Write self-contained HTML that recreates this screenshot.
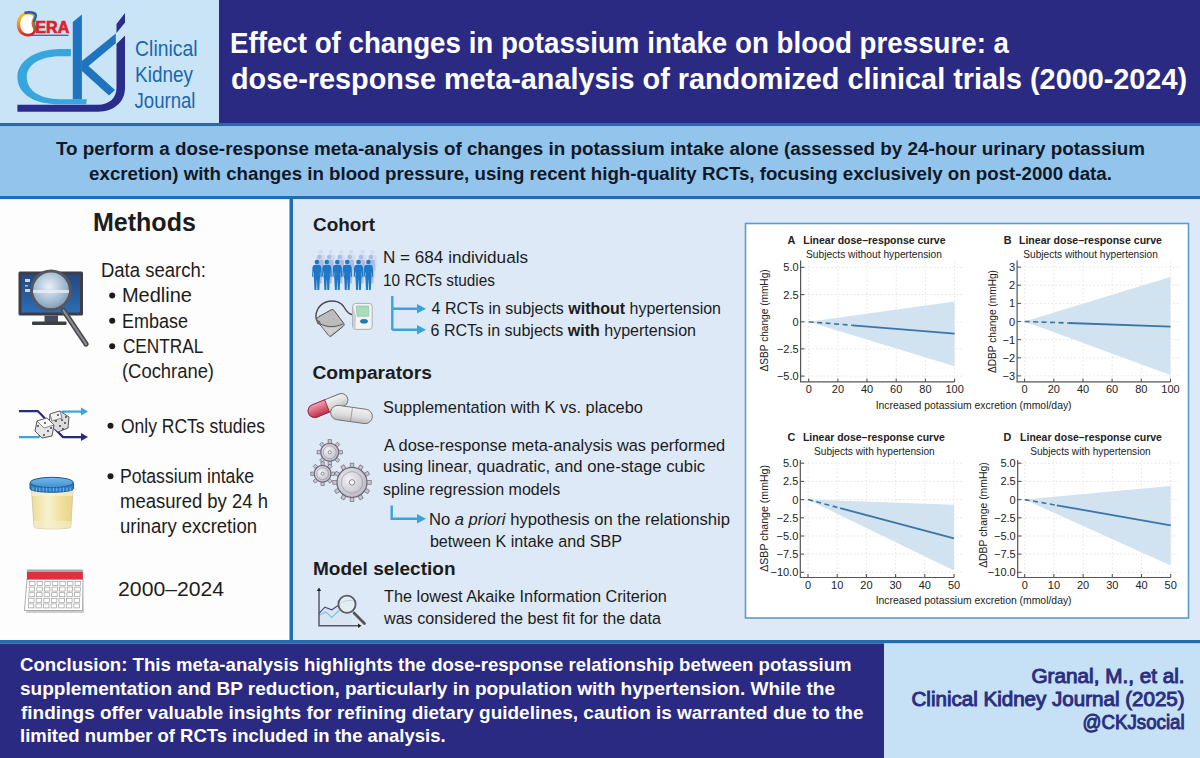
<!DOCTYPE html>
<html><head><meta charset="utf-8"><title>Potassium intake meta-analysis</title>
<style>
html,body{margin:0;padding:0;width:1200px;height:758px;overflow:hidden;background:#fff}
svg{display:block;font-family:"Liberation Sans",sans-serif}
</style></head><body>
<svg width="1200" height="758" viewBox="0 0 1200 758">
<rect x="0" y="0" width="1200" height="758" fill="#fdfdfd"/>
<rect x="0" y="0" width="219" height="123" fill="#c9e3f7"/>
<rect x="219" y="0" width="981" height="123" fill="#2b2a83"/>
<rect x="0" y="123" width="1200" height="3.5" fill="#1f6db3"/>
<rect x="0" y="126.5" width="1200" height="69.5" fill="#93c5ec"/>
<rect x="0" y="196" width="1200" height="3.3" fill="#1f6db3"/>
<rect x="0" y="199.3" width="289.5" height="440.7" fill="#fdfdfd"/>
<rect x="293" y="199.3" width="907" height="440.7" fill="#dde9f6"/>
<rect x="289.5" y="199" width="3.5" height="441" fill="#1f6db3"/>
<rect x="0" y="640" width="1200" height="3.5" fill="#1f6db3"/>
<rect x="0" y="643.5" width="884" height="114.5" fill="#2b2a83"/>
<rect x="884" y="643.5" width="316" height="114.5" fill="#c6e1f6"/>
<text id="t1" x="230.00" y="53.4" font-size="29.2" font-weight="700" fill="#ffffff" text-anchor="start" textLength="779.00" lengthAdjust="spacingAndGlyphs"  style="">Effect of changes in potassium intake on blood pressure: a</text>
<text id="t2" x="231.00" y="89.0" font-size="29.2" font-weight="700" fill="#ffffff" text-anchor="start" textLength="956.00" lengthAdjust="spacingAndGlyphs"  style="">dose-response meta-analysis of randomized clinical trials (2000-2024)</text>
<text id="t3" x="135.10" y="55.5" font-size="21.3" fill="#1a67ab" text-anchor="start" textLength="62.50" lengthAdjust="spacingAndGlyphs"  style="">Clinical</text>
<text id="t4" x="135.10" y="82.2" font-size="21.3" fill="#1a67ab" text-anchor="start" textLength="57.80" lengthAdjust="spacingAndGlyphs"  style="">Kidney</text>
<text id="t5" x="134.50" y="108.4" font-size="21.3" fill="#1a67ab" text-anchor="start" textLength="61.00" lengthAdjust="spacingAndGlyphs"  style="">Journal</text>
<text id="t6" x="56.00" y="154.8" font-size="19.2" font-weight="700" fill="#111827" text-anchor="start" textLength="1089.00" lengthAdjust="spacingAndGlyphs"  style="">To perform a dose-response meta-analysis of changes in potassium intake alone (assessed by 24-hour urinary potassium</text>
<text id="t7" x="89.10" y="180.2" font-size="19.2" font-weight="700" fill="#111827" text-anchor="start" textLength="1022.80" lengthAdjust="spacingAndGlyphs"  style="">excretion) with changes in blood pressure, using recent high-quality RCTs, focusing exclusively on post-2000 data.</text>
<text id="t8" x="92.90" y="231.3" font-size="25.2" font-weight="700" fill="#1c1c1c" text-anchor="start" textLength="103.00" lengthAdjust="spacingAndGlyphs"  style="">Methods</text>
<text id="t9" x="100.90" y="277.3" font-size="19.3" fill="#1c1c1c" text-anchor="start" textLength="105.00" lengthAdjust="spacingAndGlyphs"  style="">Data search:</text>
<circle cx="112.2" cy="295.4" r="3.0" fill="#1c1c1c"/>
<text id="t10" x="121.90" y="302.2" font-size="19.3" fill="#1c1c1c" text-anchor="start" textLength="70.10" lengthAdjust="spacingAndGlyphs"  style="">Medline</text>
<circle cx="112.2" cy="320.7" r="3.0" fill="#1c1c1c"/>
<text id="t11" x="121.90" y="327.5" font-size="19.3" fill="#1c1c1c" text-anchor="start" textLength="66.00" lengthAdjust="spacingAndGlyphs"  style="">Embase</text>
<circle cx="112.2" cy="346.3" r="3.0" fill="#1c1c1c"/>
<text id="t12" x="122.90" y="353.1" font-size="19.3" fill="#1c1c1c" text-anchor="start" textLength="80.40" lengthAdjust="spacingAndGlyphs"  style="">CENTRAL</text>
<text id="t13" x="122.00" y="378.1" font-size="19.3" fill="#1c1c1c" text-anchor="start" textLength="92.00" lengthAdjust="spacingAndGlyphs"  style="">(Cochrane)</text>
<circle cx="110.5" cy="425.8" r="3.0" fill="#1c1c1c"/>
<text id="t14" x="120.90" y="432.6" font-size="19.3" fill="#1c1c1c" text-anchor="start" textLength="144.00" lengthAdjust="spacingAndGlyphs"  style="">Only RCTs studies</text>
<circle cx="110.5" cy="476.2" r="3.0" fill="#1c1c1c"/>
<text id="t15" x="119.90" y="483.0" font-size="19.3" fill="#1c1c1c" text-anchor="start" textLength="134.10" lengthAdjust="spacingAndGlyphs"  style="">Potassium intake</text>
<text id="t16" x="120.00" y="508.4" font-size="19.3" fill="#1c1c1c" text-anchor="start" textLength="148.00" lengthAdjust="spacingAndGlyphs"  style="">measured by 24 h</text>
<text id="t17" x="120.00" y="533.0" font-size="19.3" fill="#1c1c1c" text-anchor="start" textLength="137.00" lengthAdjust="spacingAndGlyphs"  style="">urinary excretion</text>
<text id="t18" x="118.10" y="596.0" font-size="19.3" fill="#1c1c1c" text-anchor="start" textLength="106.00" lengthAdjust="spacingAndGlyphs"  style="">2000–2024</text>
<text id="t19" x="313.00" y="231.4" font-size="17.6" font-weight="700" fill="#1c1c1c" text-anchor="start" textLength="62.00" lengthAdjust="spacingAndGlyphs"  style="">Cohort</text>
<text id="t20" x="383.00" y="263.4" font-size="16.8" fill="#1c1c1c" text-anchor="start" textLength="145.00" lengthAdjust="spacingAndGlyphs"  style="">N = 684 individuals</text>
<text id="t21" x="383.00" y="286.0" font-size="16.8" fill="#1c1c1c" text-anchor="start" textLength="112.00" lengthAdjust="spacingAndGlyphs"  style="">10 RCTs studies</text>
<text id="t22" x="431.60" y="314.4" font-size="16.8" fill="#1c1c1c" text-anchor="start" textLength="289.40" lengthAdjust="spacingAndGlyphs"  style="">4 RCTs in subjects <tspan font-weight="700">without</tspan> hypertension</text>
<text id="t23" x="430.60" y="336.2" font-size="16.8" fill="#1c1c1c" text-anchor="start" textLength="265.40" lengthAdjust="spacingAndGlyphs"  style="">6 RCTs in subjects <tspan font-weight="700">with</tspan> hypertension</text>
<text id="t24" x="312.50" y="379.0" font-size="17.6" font-weight="700" fill="#1c1c1c" text-anchor="start" textLength="119.50" lengthAdjust="spacingAndGlyphs"  style="">Comparators</text>
<text id="t25" x="383.00" y="413.0" font-size="16.8" fill="#1c1c1c" text-anchor="start" textLength="260.00" lengthAdjust="spacingAndGlyphs"  style="">Supplementation with K vs. placebo</text>
<text id="t26" x="384.00" y="450.6" font-size="16.8" fill="#1c1c1c" text-anchor="start" textLength="341.20" lengthAdjust="spacingAndGlyphs"  style="">A dose-response meta-analysis was performed</text>
<text id="t27" x="383.00" y="472.0" font-size="16.8" fill="#1c1c1c" text-anchor="start" textLength="322.20" lengthAdjust="spacingAndGlyphs"  style="">using linear, quadratic, and one-stage cubic</text>
<text id="t28" x="383.00" y="495.1" font-size="16.8" fill="#1c1c1c" text-anchor="start" textLength="177.20" lengthAdjust="spacingAndGlyphs"  style="">spline regression models</text>
<text id="t29" x="428.90" y="525.1" font-size="16.8" fill="#1c1c1c" text-anchor="start" textLength="301.10" lengthAdjust="spacingAndGlyphs"  style="">No <tspan font-style="italic">a priori</tspan> hypothesis on the relationship</text>
<text id="t30" x="429.90" y="547.4" font-size="16.8" fill="#1c1c1c" text-anchor="start" textLength="192.10" lengthAdjust="spacingAndGlyphs"  style="">between K intake and SBP</text>
<text id="t31" x="313.00" y="575.3" font-size="17.6" font-weight="700" fill="#1c1c1c" text-anchor="start" textLength="142.50" lengthAdjust="spacingAndGlyphs"  style="">Model selection</text>
<text id="t32" x="384.00" y="602.2" font-size="16.8" fill="#1c1c1c" text-anchor="start" textLength="282.90" lengthAdjust="spacingAndGlyphs"  style="">The lowest Akaike Information Criterion</text>
<text id="t33" x="384.00" y="623.8" font-size="16.8" fill="#1c1c1c" text-anchor="start" textLength="277.00" lengthAdjust="spacingAndGlyphs"  style="">was considered the best fit for the data</text>
<path d="M392.3 296 V330 M392.3 308.8 H418 M392.3 329.8 H418" stroke="#3aa3dc" stroke-width="2.4" fill="none"/>
<path d="M417 304 L426 308.8 L417 313.6 Z M417 325 L426 329.8 L417 334.6 Z" fill="#3aa3dc"/>
<path d="M391.7 505.5 V518.8 H418" stroke="#3aa3dc" stroke-width="2.4" fill="none"/>
<path d="M417 514 L426 518.8 L417 523.6 Z" fill="#3aa3dc"/>
<text id="t34" x="20.00" y="671.0" font-size="17.8" font-weight="700" fill="#ffffff" text-anchor="start" textLength="831.60" lengthAdjust="spacingAndGlyphs"  style="">Conclusion: This meta-analysis highlights the dose-response relationship between potassium</text>
<text id="t35" x="20.00" y="694.5" font-size="17.8" font-weight="700" fill="#ffffff" text-anchor="start" textLength="815.00" lengthAdjust="spacingAndGlyphs"  style="">supplementation and BP reduction, particularly in population with hypertension. While the</text>
<text id="t36" x="21.00" y="718.5" font-size="17.8" font-weight="700" fill="#ffffff" text-anchor="start" textLength="842.50" lengthAdjust="spacingAndGlyphs"  style="">findings offer valuable insights for refining dietary guidelines, caution is warranted due to the</text>
<text id="t37" x="20.00" y="742.3" font-size="17.8" font-weight="700" fill="#ffffff" text-anchor="start" textLength="425.60" lengthAdjust="spacingAndGlyphs"  style="">limited number of RCTs included in the analysis.</text>
<text id="t38" x="1031.50" y="682.5" font-size="19.4" stroke="#2b2f80" stroke-width="0.95" fill="#2b2f80" text-anchor="start" textLength="153.10" lengthAdjust="spacingAndGlyphs"  style="">Granal, M., et al.</text>
<text id="t39" x="911.50" y="706.3" font-size="19.4" stroke="#2b2f80" stroke-width="0.95" fill="#2b2f80" text-anchor="start" textLength="273.10" lengthAdjust="spacingAndGlyphs"  style="">Clinical Kidney Journal (2025)</text>
<text id="t40" x="1082.60" y="728.8" font-size="19.4" stroke="#2b2f80" stroke-width="0.95" fill="#2b2f80" text-anchor="start" textLength="102.00" lengthAdjust="spacingAndGlyphs"  style="">@CKJsocial</text>
<rect x="745.5" y="223.5" width="443" height="394.5" fill="#ffffff" stroke="#5b9dc6" stroke-width="1.6"/>
<path d="M808.7 321.8 L954.6 301.6 L954.6 366.3 Z" fill="#d1e2f0"/>
<line x1="804.6" y1="267.4" x2="962.6" y2="267.4" stroke="#e2e2e2" stroke-width="0.9" stroke-dasharray="1.6 2.2"/>
<line x1="804.6" y1="294.6" x2="962.6" y2="294.6" stroke="#e2e2e2" stroke-width="0.9" stroke-dasharray="1.6 2.2"/>
<line x1="804.6" y1="321.8" x2="962.6" y2="321.8" stroke="#e2e2e2" stroke-width="0.9" stroke-dasharray="1.6 2.2"/>
<line x1="804.6" y1="348.9" x2="962.6" y2="348.9" stroke="#e2e2e2" stroke-width="0.9" stroke-dasharray="1.6 2.2"/>
<line x1="804.6" y1="376.1" x2="962.6" y2="376.1" stroke="#e2e2e2" stroke-width="0.9" stroke-dasharray="1.6 2.2"/>
<line x1="808.7" y1="261.5" x2="808.7" y2="377.9" stroke="#e2e2e2" stroke-width="0.9" stroke-dasharray="1.6 2.2"/>
<line x1="837.9" y1="261.5" x2="837.9" y2="377.9" stroke="#e2e2e2" stroke-width="0.9" stroke-dasharray="1.6 2.2"/>
<line x1="867.0" y1="261.5" x2="867.0" y2="377.9" stroke="#e2e2e2" stroke-width="0.9" stroke-dasharray="1.6 2.2"/>
<line x1="896.2" y1="261.5" x2="896.2" y2="377.9" stroke="#e2e2e2" stroke-width="0.9" stroke-dasharray="1.6 2.2"/>
<line x1="925.4" y1="261.5" x2="925.4" y2="377.9" stroke="#e2e2e2" stroke-width="0.9" stroke-dasharray="1.6 2.2"/>
<line x1="954.6" y1="261.5" x2="954.6" y2="377.9" stroke="#e2e2e2" stroke-width="0.9" stroke-dasharray="1.6 2.2"/>
<line x1="808.7" y1="321.8" x2="852.5" y2="325.3" stroke="#3b74a8" stroke-width="1.6" stroke-dasharray="5 3.5"/>
<line x1="852.5" y1="325.3" x2="954.6" y2="333.6" stroke="#3b74a8" stroke-width="1.8"/>
<path d="M800.6 260.5 V381.9 H954.6" stroke="#555555" stroke-width="1.2" fill="none"/>
<line x1="800.6" y1="267.4" x2="804.4" y2="267.4" stroke="#555555" stroke-width="1.1"/>
<line x1="800.6" y1="294.6" x2="804.4" y2="294.6" stroke="#555555" stroke-width="1.1"/>
<line x1="800.6" y1="321.8" x2="804.4" y2="321.8" stroke="#555555" stroke-width="1.1"/>
<line x1="800.6" y1="348.9" x2="804.4" y2="348.9" stroke="#555555" stroke-width="1.1"/>
<line x1="800.6" y1="376.1" x2="804.4" y2="376.1" stroke="#555555" stroke-width="1.1"/>
<line x1="808.7" y1="381.9" x2="808.7" y2="378.4" stroke="#555555" stroke-width="1.1"/>
<line x1="837.9" y1="381.9" x2="837.9" y2="378.4" stroke="#555555" stroke-width="1.1"/>
<line x1="867.0" y1="381.9" x2="867.0" y2="378.4" stroke="#555555" stroke-width="1.1"/>
<line x1="896.2" y1="381.9" x2="896.2" y2="378.4" stroke="#555555" stroke-width="1.1"/>
<line x1="925.4" y1="381.9" x2="925.4" y2="378.4" stroke="#555555" stroke-width="1.1"/>
<line x1="954.6" y1="381.9" x2="954.6" y2="378.4" stroke="#555555" stroke-width="1.1"/>
<text x="798.6" y="271.4" font-size="11" fill="#222222" text-anchor="end">5.0</text>
<text x="798.6" y="298.6" font-size="11" fill="#222222" text-anchor="end">2.5</text>
<text x="798.6" y="325.8" font-size="11" fill="#222222" text-anchor="end">0</text>
<text x="798.6" y="352.9" font-size="11" fill="#222222" text-anchor="end">−2.5</text>
<text x="798.6" y="380.1" font-size="11" fill="#222222" text-anchor="end">−5.0</text>
<text x="808.7" y="392.9" font-size="11" fill="#222222" text-anchor="middle">0</text>
<text x="837.9" y="392.9" font-size="11" fill="#222222" text-anchor="middle">20</text>
<text x="867.0" y="392.9" font-size="11" fill="#222222" text-anchor="middle">40</text>
<text x="896.2" y="392.9" font-size="11" fill="#222222" text-anchor="middle">60</text>
<text x="925.4" y="392.9" font-size="11" fill="#222222" text-anchor="middle">80</text>
<text x="954.6" y="392.9" font-size="11" fill="#222222" text-anchor="middle">100</text>
<text x="787.6" y="243.8" font-size="10.8" font-weight="700" fill="#222222">A</text>
<text id="t41" x="803.30" y="243.8" font-size="10.8" font-weight="700" fill="#222222" text-anchor="start" textLength="142.20" lengthAdjust="spacingAndGlyphs"  style="">Linear dose–response curve</text>
<text id="t42" x="806.00" y="257.6" font-size="10.8" fill="#222222" text-anchor="start" textLength="136.00" lengthAdjust="spacingAndGlyphs"  style="">Subjects without hypertension</text>
<text x="0" y="0" font-size="10.8" fill="#222222" text-anchor="middle" textLength="102.1" lengthAdjust="spacingAndGlyphs" transform="translate(768.0 320.4) rotate(-90)">ΔSBP change (mmHg)</text>
<path d="M1024.6 321.5 L1170.5 277.1 L1170.5 375.0 Z" fill="#d1e2f0"/>
<line x1="1021.1" y1="267.1" x2="1178.5" y2="267.1" stroke="#e2e2e2" stroke-width="0.9" stroke-dasharray="1.6 2.2"/>
<line x1="1021.1" y1="285.2" x2="1178.5" y2="285.2" stroke="#e2e2e2" stroke-width="0.9" stroke-dasharray="1.6 2.2"/>
<line x1="1021.1" y1="303.4" x2="1178.5" y2="303.4" stroke="#e2e2e2" stroke-width="0.9" stroke-dasharray="1.6 2.2"/>
<line x1="1021.1" y1="321.5" x2="1178.5" y2="321.5" stroke="#e2e2e2" stroke-width="0.9" stroke-dasharray="1.6 2.2"/>
<line x1="1021.1" y1="339.6" x2="1178.5" y2="339.6" stroke="#e2e2e2" stroke-width="0.9" stroke-dasharray="1.6 2.2"/>
<line x1="1021.1" y1="357.8" x2="1178.5" y2="357.8" stroke="#e2e2e2" stroke-width="0.9" stroke-dasharray="1.6 2.2"/>
<line x1="1021.1" y1="375.9" x2="1178.5" y2="375.9" stroke="#e2e2e2" stroke-width="0.9" stroke-dasharray="1.6 2.2"/>
<line x1="1024.6" y1="261.5" x2="1024.6" y2="377.9" stroke="#e2e2e2" stroke-width="0.9" stroke-dasharray="1.6 2.2"/>
<line x1="1053.8" y1="261.5" x2="1053.8" y2="377.9" stroke="#e2e2e2" stroke-width="0.9" stroke-dasharray="1.6 2.2"/>
<line x1="1083.0" y1="261.5" x2="1083.0" y2="377.9" stroke="#e2e2e2" stroke-width="0.9" stroke-dasharray="1.6 2.2"/>
<line x1="1112.1" y1="261.5" x2="1112.1" y2="377.9" stroke="#e2e2e2" stroke-width="0.9" stroke-dasharray="1.6 2.2"/>
<line x1="1141.3" y1="261.5" x2="1141.3" y2="377.9" stroke="#e2e2e2" stroke-width="0.9" stroke-dasharray="1.6 2.2"/>
<line x1="1170.5" y1="261.5" x2="1170.5" y2="377.9" stroke="#e2e2e2" stroke-width="0.9" stroke-dasharray="1.6 2.2"/>
<line x1="1024.6" y1="321.5" x2="1068.4" y2="323.0" stroke="#3b74a8" stroke-width="1.6" stroke-dasharray="5 3.5"/>
<line x1="1068.4" y1="323.0" x2="1170.5" y2="326.6" stroke="#3b74a8" stroke-width="1.8"/>
<path d="M1017.1 260.5 V381.9 H1170.5" stroke="#555555" stroke-width="1.2" fill="none"/>
<line x1="1017.1" y1="267.1" x2="1020.9" y2="267.1" stroke="#555555" stroke-width="1.1"/>
<line x1="1017.1" y1="285.2" x2="1020.9" y2="285.2" stroke="#555555" stroke-width="1.1"/>
<line x1="1017.1" y1="303.4" x2="1020.9" y2="303.4" stroke="#555555" stroke-width="1.1"/>
<line x1="1017.1" y1="321.5" x2="1020.9" y2="321.5" stroke="#555555" stroke-width="1.1"/>
<line x1="1017.1" y1="339.6" x2="1020.9" y2="339.6" stroke="#555555" stroke-width="1.1"/>
<line x1="1017.1" y1="357.8" x2="1020.9" y2="357.8" stroke="#555555" stroke-width="1.1"/>
<line x1="1017.1" y1="375.9" x2="1020.9" y2="375.9" stroke="#555555" stroke-width="1.1"/>
<line x1="1024.6" y1="381.9" x2="1024.6" y2="378.4" stroke="#555555" stroke-width="1.1"/>
<line x1="1053.8" y1="381.9" x2="1053.8" y2="378.4" stroke="#555555" stroke-width="1.1"/>
<line x1="1083.0" y1="381.9" x2="1083.0" y2="378.4" stroke="#555555" stroke-width="1.1"/>
<line x1="1112.1" y1="381.9" x2="1112.1" y2="378.4" stroke="#555555" stroke-width="1.1"/>
<line x1="1141.3" y1="381.9" x2="1141.3" y2="378.4" stroke="#555555" stroke-width="1.1"/>
<line x1="1170.5" y1="381.9" x2="1170.5" y2="378.4" stroke="#555555" stroke-width="1.1"/>
<text x="1015.1" y="271.1" font-size="11" fill="#222222" text-anchor="end">3</text>
<text x="1015.1" y="289.2" font-size="11" fill="#222222" text-anchor="end">2</text>
<text x="1015.1" y="307.4" font-size="11" fill="#222222" text-anchor="end">1</text>
<text x="1015.1" y="325.5" font-size="11" fill="#222222" text-anchor="end">0</text>
<text x="1015.1" y="343.6" font-size="11" fill="#222222" text-anchor="end">−1</text>
<text x="1015.1" y="361.8" font-size="11" fill="#222222" text-anchor="end">−2</text>
<text x="1015.1" y="379.9" font-size="11" fill="#222222" text-anchor="end">−3</text>
<text x="1024.6" y="392.9" font-size="11" fill="#222222" text-anchor="middle">0</text>
<text x="1053.8" y="392.9" font-size="11" fill="#222222" text-anchor="middle">20</text>
<text x="1083.0" y="392.9" font-size="11" fill="#222222" text-anchor="middle">40</text>
<text x="1112.1" y="392.9" font-size="11" fill="#222222" text-anchor="middle">60</text>
<text x="1141.3" y="392.9" font-size="11" fill="#222222" text-anchor="middle">80</text>
<text x="1170.5" y="392.9" font-size="11" fill="#222222" text-anchor="middle">100</text>
<text x="1003.8" y="243.8" font-size="10.8" font-weight="700" fill="#222222">B</text>
<text id="t43" x="1019.00" y="243.8" font-size="10.8" font-weight="700" fill="#222222" text-anchor="start" textLength="142.90" lengthAdjust="spacingAndGlyphs"  style="">Linear dose–response curve</text>
<text id="t44" x="1023.30" y="257.6" font-size="10.8" fill="#222222" text-anchor="start" textLength="134.50" lengthAdjust="spacingAndGlyphs"  style="">Subjects without hypertension</text>
<text x="0" y="0" font-size="10.8" fill="#222222" text-anchor="middle" textLength="103.0" lengthAdjust="spacingAndGlyphs" transform="translate(995.5 321.5) rotate(-90)">ΔDBP change (mmHg)</text>
<path d="M808.0 499.6 L954.0 504.7 L954.0 570.6 Z" fill="#d1e2f0"/>
<line x1="804.3" y1="463.2" x2="962.0" y2="463.2" stroke="#e2e2e2" stroke-width="0.9" stroke-dasharray="1.6 2.2"/>
<line x1="804.3" y1="481.4" x2="962.0" y2="481.4" stroke="#e2e2e2" stroke-width="0.9" stroke-dasharray="1.6 2.2"/>
<line x1="804.3" y1="499.6" x2="962.0" y2="499.6" stroke="#e2e2e2" stroke-width="0.9" stroke-dasharray="1.6 2.2"/>
<line x1="804.3" y1="517.8" x2="962.0" y2="517.8" stroke="#e2e2e2" stroke-width="0.9" stroke-dasharray="1.6 2.2"/>
<line x1="804.3" y1="536.0" x2="962.0" y2="536.0" stroke="#e2e2e2" stroke-width="0.9" stroke-dasharray="1.6 2.2"/>
<line x1="804.3" y1="554.1" x2="962.0" y2="554.1" stroke="#e2e2e2" stroke-width="0.9" stroke-dasharray="1.6 2.2"/>
<line x1="804.3" y1="572.3" x2="962.0" y2="572.3" stroke="#e2e2e2" stroke-width="0.9" stroke-dasharray="1.6 2.2"/>
<line x1="808.0" y1="460.9" x2="808.0" y2="573.5" stroke="#e2e2e2" stroke-width="0.9" stroke-dasharray="1.6 2.2"/>
<line x1="837.2" y1="460.9" x2="837.2" y2="573.5" stroke="#e2e2e2" stroke-width="0.9" stroke-dasharray="1.6 2.2"/>
<line x1="866.4" y1="460.9" x2="866.4" y2="573.5" stroke="#e2e2e2" stroke-width="0.9" stroke-dasharray="1.6 2.2"/>
<line x1="895.6" y1="460.9" x2="895.6" y2="573.5" stroke="#e2e2e2" stroke-width="0.9" stroke-dasharray="1.6 2.2"/>
<line x1="924.8" y1="460.9" x2="924.8" y2="573.5" stroke="#e2e2e2" stroke-width="0.9" stroke-dasharray="1.6 2.2"/>
<line x1="954.0" y1="460.9" x2="954.0" y2="573.5" stroke="#e2e2e2" stroke-width="0.9" stroke-dasharray="1.6 2.2"/>
<line x1="808.0" y1="499.6" x2="840.1" y2="508.1" stroke="#3b74a8" stroke-width="1.6" stroke-dasharray="5 3.5"/>
<line x1="840.1" y1="508.1" x2="954.0" y2="538.4" stroke="#3b74a8" stroke-width="1.8"/>
<path d="M800.3 459.9 V577.5 H954.0" stroke="#555555" stroke-width="1.2" fill="none"/>
<line x1="800.3" y1="463.2" x2="804.1" y2="463.2" stroke="#555555" stroke-width="1.1"/>
<line x1="800.3" y1="481.4" x2="804.1" y2="481.4" stroke="#555555" stroke-width="1.1"/>
<line x1="800.3" y1="499.6" x2="804.1" y2="499.6" stroke="#555555" stroke-width="1.1"/>
<line x1="800.3" y1="517.8" x2="804.1" y2="517.8" stroke="#555555" stroke-width="1.1"/>
<line x1="800.3" y1="536.0" x2="804.1" y2="536.0" stroke="#555555" stroke-width="1.1"/>
<line x1="800.3" y1="554.1" x2="804.1" y2="554.1" stroke="#555555" stroke-width="1.1"/>
<line x1="800.3" y1="572.3" x2="804.1" y2="572.3" stroke="#555555" stroke-width="1.1"/>
<line x1="808.0" y1="577.5" x2="808.0" y2="574.0" stroke="#555555" stroke-width="1.1"/>
<line x1="837.2" y1="577.5" x2="837.2" y2="574.0" stroke="#555555" stroke-width="1.1"/>
<line x1="866.4" y1="577.5" x2="866.4" y2="574.0" stroke="#555555" stroke-width="1.1"/>
<line x1="895.6" y1="577.5" x2="895.6" y2="574.0" stroke="#555555" stroke-width="1.1"/>
<line x1="924.8" y1="577.5" x2="924.8" y2="574.0" stroke="#555555" stroke-width="1.1"/>
<line x1="954.0" y1="577.5" x2="954.0" y2="574.0" stroke="#555555" stroke-width="1.1"/>
<text x="798.3" y="467.2" font-size="11" fill="#222222" text-anchor="end">5.0</text>
<text x="798.3" y="485.4" font-size="11" fill="#222222" text-anchor="end">2.5</text>
<text x="798.3" y="503.6" font-size="11" fill="#222222" text-anchor="end">0</text>
<text x="798.3" y="521.8" font-size="11" fill="#222222" text-anchor="end">−2.5</text>
<text x="798.3" y="540.0" font-size="11" fill="#222222" text-anchor="end">−5.0</text>
<text x="798.3" y="558.1" font-size="11" fill="#222222" text-anchor="end">−7.5</text>
<text x="798.3" y="576.3" font-size="11" fill="#222222" text-anchor="end">−10.0</text>
<text x="808.0" y="588.5" font-size="11" fill="#222222" text-anchor="middle">0</text>
<text x="837.2" y="588.5" font-size="11" fill="#222222" text-anchor="middle">10</text>
<text x="866.4" y="588.5" font-size="11" fill="#222222" text-anchor="middle">20</text>
<text x="895.6" y="588.5" font-size="11" fill="#222222" text-anchor="middle">30</text>
<text x="924.8" y="588.5" font-size="11" fill="#222222" text-anchor="middle">40</text>
<text x="954.0" y="588.5" font-size="11" fill="#222222" text-anchor="middle">50</text>
<text x="787.5" y="440.6" font-size="10.8" font-weight="700" fill="#222222">C</text>
<text id="t45" x="802.90" y="440.6" font-size="10.8" font-weight="700" fill="#222222" text-anchor="start" textLength="141.90" lengthAdjust="spacingAndGlyphs"  style="">Linear dose–response curve</text>
<text id="t46" x="814.00" y="454.7" font-size="10.8" fill="#222222" text-anchor="start" textLength="120.70" lengthAdjust="spacingAndGlyphs"  style="">Subjects with hypertension</text>
<text x="0" y="0" font-size="10.8" fill="#222222" text-anchor="middle" textLength="106.8" lengthAdjust="spacingAndGlyphs" transform="translate(768.0 518.4) rotate(-90)">ΔSBP change (mmHg)</text>
<path d="M1024.7 499.6 L1170.7 486.1 L1170.7 565.4 Z" fill="#d1e2f0"/>
<line x1="1021.7" y1="463.2" x2="1178.7" y2="463.2" stroke="#e2e2e2" stroke-width="0.9" stroke-dasharray="1.6 2.2"/>
<line x1="1021.7" y1="481.4" x2="1178.7" y2="481.4" stroke="#e2e2e2" stroke-width="0.9" stroke-dasharray="1.6 2.2"/>
<line x1="1021.7" y1="499.6" x2="1178.7" y2="499.6" stroke="#e2e2e2" stroke-width="0.9" stroke-dasharray="1.6 2.2"/>
<line x1="1021.7" y1="517.8" x2="1178.7" y2="517.8" stroke="#e2e2e2" stroke-width="0.9" stroke-dasharray="1.6 2.2"/>
<line x1="1021.7" y1="536.0" x2="1178.7" y2="536.0" stroke="#e2e2e2" stroke-width="0.9" stroke-dasharray="1.6 2.2"/>
<line x1="1021.7" y1="554.1" x2="1178.7" y2="554.1" stroke="#e2e2e2" stroke-width="0.9" stroke-dasharray="1.6 2.2"/>
<line x1="1021.7" y1="572.3" x2="1178.7" y2="572.3" stroke="#e2e2e2" stroke-width="0.9" stroke-dasharray="1.6 2.2"/>
<line x1="1024.7" y1="460.9" x2="1024.7" y2="573.5" stroke="#e2e2e2" stroke-width="0.9" stroke-dasharray="1.6 2.2"/>
<line x1="1053.9" y1="460.9" x2="1053.9" y2="573.5" stroke="#e2e2e2" stroke-width="0.9" stroke-dasharray="1.6 2.2"/>
<line x1="1083.1" y1="460.9" x2="1083.1" y2="573.5" stroke="#e2e2e2" stroke-width="0.9" stroke-dasharray="1.6 2.2"/>
<line x1="1112.3" y1="460.9" x2="1112.3" y2="573.5" stroke="#e2e2e2" stroke-width="0.9" stroke-dasharray="1.6 2.2"/>
<line x1="1141.5" y1="460.9" x2="1141.5" y2="573.5" stroke="#e2e2e2" stroke-width="0.9" stroke-dasharray="1.6 2.2"/>
<line x1="1170.7" y1="460.9" x2="1170.7" y2="573.5" stroke="#e2e2e2" stroke-width="0.9" stroke-dasharray="1.6 2.2"/>
<line x1="1024.7" y1="499.6" x2="1056.8" y2="505.3" stroke="#3b74a8" stroke-width="1.6" stroke-dasharray="5 3.5"/>
<line x1="1056.8" y1="505.3" x2="1170.7" y2="525.3" stroke="#3b74a8" stroke-width="1.8"/>
<path d="M1017.7 459.9 V577.5 H1170.7" stroke="#555555" stroke-width="1.2" fill="none"/>
<line x1="1017.7" y1="463.2" x2="1021.5" y2="463.2" stroke="#555555" stroke-width="1.1"/>
<line x1="1017.7" y1="481.4" x2="1021.5" y2="481.4" stroke="#555555" stroke-width="1.1"/>
<line x1="1017.7" y1="499.6" x2="1021.5" y2="499.6" stroke="#555555" stroke-width="1.1"/>
<line x1="1017.7" y1="517.8" x2="1021.5" y2="517.8" stroke="#555555" stroke-width="1.1"/>
<line x1="1017.7" y1="536.0" x2="1021.5" y2="536.0" stroke="#555555" stroke-width="1.1"/>
<line x1="1017.7" y1="554.1" x2="1021.5" y2="554.1" stroke="#555555" stroke-width="1.1"/>
<line x1="1017.7" y1="572.3" x2="1021.5" y2="572.3" stroke="#555555" stroke-width="1.1"/>
<line x1="1024.7" y1="577.5" x2="1024.7" y2="574.0" stroke="#555555" stroke-width="1.1"/>
<line x1="1053.9" y1="577.5" x2="1053.9" y2="574.0" stroke="#555555" stroke-width="1.1"/>
<line x1="1083.1" y1="577.5" x2="1083.1" y2="574.0" stroke="#555555" stroke-width="1.1"/>
<line x1="1112.3" y1="577.5" x2="1112.3" y2="574.0" stroke="#555555" stroke-width="1.1"/>
<line x1="1141.5" y1="577.5" x2="1141.5" y2="574.0" stroke="#555555" stroke-width="1.1"/>
<line x1="1170.7" y1="577.5" x2="1170.7" y2="574.0" stroke="#555555" stroke-width="1.1"/>
<text x="1015.7" y="467.2" font-size="11" fill="#222222" text-anchor="end">5.0</text>
<text x="1015.7" y="485.4" font-size="11" fill="#222222" text-anchor="end">2.5</text>
<text x="1015.7" y="503.6" font-size="11" fill="#222222" text-anchor="end">0</text>
<text x="1015.7" y="521.8" font-size="11" fill="#222222" text-anchor="end">−2.5</text>
<text x="1015.7" y="540.0" font-size="11" fill="#222222" text-anchor="end">−5.0</text>
<text x="1015.7" y="558.1" font-size="11" fill="#222222" text-anchor="end">−7.5</text>
<text x="1015.7" y="576.3" font-size="11" fill="#222222" text-anchor="end">−10.0</text>
<text x="1024.7" y="588.5" font-size="11" fill="#222222" text-anchor="middle">0</text>
<text x="1053.9" y="588.5" font-size="11" fill="#222222" text-anchor="middle">10</text>
<text x="1083.1" y="588.5" font-size="11" fill="#222222" text-anchor="middle">20</text>
<text x="1112.3" y="588.5" font-size="11" fill="#222222" text-anchor="middle">30</text>
<text x="1141.5" y="588.5" font-size="11" fill="#222222" text-anchor="middle">40</text>
<text x="1170.7" y="588.5" font-size="11" fill="#222222" text-anchor="middle">50</text>
<text x="1003.6" y="440.6" font-size="10.8" font-weight="700" fill="#222222">D</text>
<text id="t47" x="1020.10" y="440.6" font-size="10.8" font-weight="700" fill="#222222" text-anchor="start" textLength="141.80" lengthAdjust="spacingAndGlyphs"  style="">Linear dose–response curve</text>
<text id="t48" x="1030.20" y="454.7" font-size="10.8" fill="#222222" text-anchor="start" textLength="120.50" lengthAdjust="spacingAndGlyphs"  style="">Subjects with hypertension</text>
<text x="0" y="0" font-size="10.8" fill="#222222" text-anchor="middle" textLength="105.5" lengthAdjust="spacingAndGlyphs" transform="translate(987.0 515.1) rotate(-90)">ΔDBP change (mmHg)</text>
<text id="t49" x="875.70" y="408.8" font-size="10.8" fill="#222222" text-anchor="start" textLength="195.90" lengthAdjust="spacingAndGlyphs"  style="">Increased potassium excretion (mmol/day)</text>
<text id="t50" x="875.70" y="603.8" font-size="10.8" fill="#222222" text-anchor="start" textLength="195.90" lengthAdjust="spacingAndGlyphs"  style="">Increased potassium excretion (mmol/day)</text>
<path d="M70.9 48.9 L60 48.9 C33 49.5 17.4 62 17.4 77 C17.4 94 34 104.3 60 104.3 L86.2 104.3 L86.9 99.2 L60 99.2 C39 99.2 26.8 90 26.8 77 C26.8 65 40 56.3 60 56.3 L70.9 56.3 Z" fill="#38a6de"/>
<path d="M72.8 22.1 L81.9 14.4 L81.9 99.3 L72.8 99.3 Z" fill="#1f74c0"/>
<path d="M81.9 61 L115.8 33.5 L115.8 43.3 L88.5 66 L115 90 L109 95.5 L81.9 71 Z" fill="#1f74c0"/>
<path d="M116.5 24 L125 12.9 L125 22.5 L116.5 33 Z" fill="#2a2d8c"/>
<path d="M116.5 44 L125 35.5 L125 88 C125 102 114 111.7 98 111.7 L17.4 111.7 L17.4 104.8 L98 104.8 C109 104.8 116.5 98 116.5 88 Z" fill="#2a2d8c"/>
<defs><linearGradient id="kg" x1="0" y1="0" x2="0.3" y2="1"><stop offset="0" stop-color="#f6d820"/><stop offset="0.45" stop-color="#f39a1c"/><stop offset="0.75" stop-color="#e8502a"/><stop offset="1" stop-color="#d8262e"/></linearGradient></defs>
<path d="M27 12 C21 12 16.8 18 16.8 24.5 C16.8 31.5 21.5 36.5 28 36.5 C32 36.5 35.6 34 36 30.5 C36.2 28 34 26.5 34 23 C34 19.5 36.3 18 35.8 15.2 C35.3 12.8 31 12 27 12 Z" fill="url(#kg)"/>
<path d="M27.5 14.8 C23 14.8 20.2 19 20.2 24.5 C20.2 30 23.5 33.8 28 33.8 C31 33.8 33.2 32 33.4 30 C33.4 28 31.5 26.5 31.5 23 C31.5 19.5 33.5 18 33.2 16.3 C32.8 15 30.5 14.8 27.5 14.8 Z" fill="#ffffff"/>
<path d="M24.5 13 C29 11.5 35.5 12.5 35.8 15.2 C36.1 17.5 34 19.5 33.9 22.5" stroke="#1f5fa8" stroke-width="2.4" fill="none"/>
<path d="M33.9 22.5 C33.9 26 36.2 27.8 36 30.5" stroke="#3aa048" stroke-width="2.4" fill="none"/>
<text x="35.3" y="32.9" font-size="17.2" font-weight="700" fill="#dc2029" stroke="#dc2029" stroke-width="0.7" textLength="34" lengthAdjust="spacingAndGlyphs">ERA</text>
<rect x="31.5" y="34.6" width="37" height="1.4" fill="#2a3a7a" opacity="0.75"/>
<defs>
<linearGradient id="scr" x1="0" y1="0" x2="0" y2="1"><stop offset="0" stop-color="#24497f"/><stop offset="1" stop-color="#2d6db5"/></linearGradient>
<radialGradient id="lens" cx="0.45" cy="0.4" r="0.6"><stop offset="0" stop-color="#e8f0f6"/><stop offset="0.7" stop-color="#9fb9cf"/><stop offset="1" stop-color="#7f9ab3"/></radialGradient>
<linearGradient id="cup" x1="0" y1="0" x2="1" y2="0"><stop offset="0" stop-color="#ecdc96"/><stop offset="0.4" stop-color="#f8f1d0"/><stop offset="0.75" stop-color="#f0df9a"/><stop offset="1" stop-color="#e6d48a"/></linearGradient>
<linearGradient id="lid" x1="0" y1="0" x2="0" y2="1"><stop offset="0" stop-color="#79b8e8"/><stop offset="1" stop-color="#3d8fd0"/></linearGradient>
<linearGradient id="pillg" x1="0" y1="0" x2="0" y2="1"><stop offset="0" stop-color="#f2f2f2"/><stop offset="0.6" stop-color="#dcdcdc"/><stop offset="1" stop-color="#b8b8b8"/></linearGradient>
<linearGradient id="pillr" x1="0" y1="0" x2="0" y2="1"><stop offset="0" stop-color="#f3a0b0"/><stop offset="1" stop-color="#c0304a"/></linearGradient>
<radialGradient id="gear" cx="0.4" cy="0.4" r="0.7"><stop offset="0" stop-color="#f4f2f6"/><stop offset="1" stop-color="#b6b3bf"/></radialGradient>
</defs>
<rect x="18.5" y="271.5" width="64.5" height="44" rx="1.5" fill="#3d3d4a"/>
<rect x="21.5" y="274.5" width="58.5" height="38" fill="url(#scr)"/>
<rect x="25" y="279" width="5" height="3" fill="#c8d8ee"/><rect x="25" y="289" width="5" height="3" fill="#c8d8ee"/><rect x="25" y="285" width="3" height="1.5" fill="#a8c0e0"/>
<rect x="44.5" y="315.5" width="13.5" height="6.5" fill="#4a4a58"/>
<rect x="32" y="321.5" width="34.5" height="3.5" rx="1" fill="#3d3d4a"/>
<line x1="63.5" y1="310.5" x2="86" y2="344" stroke="#4a4a50" stroke-width="5.2" stroke-linecap="round"/>
<line x1="63.5" y1="310.5" x2="86" y2="344" stroke="#8a8a90" stroke-width="2.2" stroke-linecap="round"/>
<circle cx="51" cy="290.3" r="19.3" fill="url(#lens)" stroke="#55565e" stroke-width="3"/>
<rect x="33" y="290" width="36" height="3" fill="#e8eef4" opacity="0.8"/>
<path d="M19 411.1 H37.8 L45 418.5" stroke="#2b2a7a" stroke-width="2.2" fill="none"/>
<path d="M19 437.1 H38.5 L41 434" stroke="#3aa6d0" stroke-width="2.2" fill="none"/>
<path d="M62 411.6 H82" stroke="#3aa6d0" stroke-width="2.2" fill="none"/><path d="M81 407.6 L88 411.6 L81 415.6 Z" fill="#3aa6d0"/>
<path d="M55 429 L63 437.1 H82" stroke="#2b2a7a" stroke-width="2.2" fill="none"/><path d="M81 433.1 L88 437.1 L81 441.1 Z" fill="#2b2a7a"/>
<path d="M50 414 L60 411 L69 417 L68 428 L58 432 L49 425 Z" fill="#dcdcdc" stroke="#444" stroke-width="0.9"/>
<path d="M50 414 L60 411 L62 418 L52 421 Z" fill="#f2f2f2" stroke="#444" stroke-width="0.6"/>
<circle cx="58" cy="415" r="0.9" fill="#333"/>
<circle cx="62" cy="420" r="0.9" fill="#333"/>
<circle cx="65" cy="423" r="0.9" fill="#333"/>
<circle cx="60" cy="426" r="0.9" fill="#333"/>
<circle cx="56" cy="421" r="0.9" fill="#333"/>
<circle cx="66" cy="417" r="0.9" fill="#333"/>
<circle cx="63" cy="429" r="0.9" fill="#333"/>
<path d="M37 421 L47 418 L54 425 L52 436 L42 438 L35 431 Z" fill="#e6e6e6" stroke="#444" stroke-width="0.9"/>
<path d="M37 421 L47 418 L54 425 L44 428 Z" fill="#f8f8f8" stroke="#444" stroke-width="0.6"/>
<circle cx="45" cy="423" r="0.9" fill="#333"/>
<circle cx="38" cy="426" r="0.9" fill="#333"/>
<circle cx="48" cy="431" r="0.9" fill="#333"/>
<circle cx="44" cy="435" r="0.9" fill="#333"/>
<circle cx="51" cy="428" r="0.9" fill="#333"/>
<path d="M31.5 490 L73 490 L70.8 527 C70.8 529.5 34 529.5 34 527 Z" fill="url(#cup)" stroke="#cfc49a" stroke-width="0.8"/>
<path d="M31.6 491 L72.9 491 L72.6 496 L31.9 496 Z" fill="#f4f0dc" opacity="0.7"/>
<path d="M33.6 521 L71.1 521 L70.8 527 C70.8 529.5 34 529.5 34 527 Z" fill="#f6efcf" opacity="0.6"/>
<path d="M30 483.5 C30 477 73.5 477 73.5 483.5 L73.5 488.5 C73.5 493.5 30 493.5 30 488.5 Z" fill="#2f7fc4" stroke="#1d5796" stroke-width="1"/>
<ellipse cx="51.8" cy="482.5" rx="21.5" ry="5.2" fill="url(#lid)" stroke="#1d5796" stroke-width="1"/>
<line x1="33.0" y1="487.5" x2="33.0" y2="491.5" stroke="#8cc4ee" stroke-width="0.8"/>
<line x1="36.4" y1="487.5" x2="36.4" y2="491.5" stroke="#8cc4ee" stroke-width="0.8"/>
<line x1="39.8" y1="487.5" x2="39.8" y2="491.5" stroke="#8cc4ee" stroke-width="0.8"/>
<line x1="43.2" y1="487.5" x2="43.2" y2="491.5" stroke="#8cc4ee" stroke-width="0.8"/>
<line x1="46.6" y1="487.5" x2="46.6" y2="491.5" stroke="#8cc4ee" stroke-width="0.8"/>
<line x1="50.0" y1="487.5" x2="50.0" y2="491.5" stroke="#8cc4ee" stroke-width="0.8"/>
<line x1="53.4" y1="487.5" x2="53.4" y2="491.5" stroke="#8cc4ee" stroke-width="0.8"/>
<line x1="56.8" y1="487.5" x2="56.8" y2="491.5" stroke="#8cc4ee" stroke-width="0.8"/>
<line x1="60.2" y1="487.5" x2="60.2" y2="491.5" stroke="#8cc4ee" stroke-width="0.8"/>
<line x1="63.6" y1="487.5" x2="63.6" y2="491.5" stroke="#8cc4ee" stroke-width="0.8"/>
<line x1="67.0" y1="487.5" x2="67.0" y2="491.5" stroke="#8cc4ee" stroke-width="0.8"/>
<line x1="70.4" y1="487.5" x2="70.4" y2="491.5" stroke="#8cc4ee" stroke-width="0.8"/>
<path d="M27 579 L83 579 L84 613 L26 613 Z" fill="#cfcfcf"/>
<path d="M27 579 L83 579 L82.5 610.5 L24.5 610.5 Z" fill="#ffffff" stroke="#9a9a9a" stroke-width="0.8"/>
<rect x="26.9" y="569.5" width="56" height="3" fill="#a8a8a8"/>
<rect x="26.9" y="572" width="56" height="7.5" fill="#e03040"/>
<rect x="29.5" y="581.5" width="5.5" height="4" fill="#ffffff" stroke="#9c9c9c" stroke-width="0.7"/>
<rect x="37.1" y="581.5" width="5.5" height="4" fill="#ffffff" stroke="#9c9c9c" stroke-width="0.7"/>
<rect x="44.7" y="581.5" width="5.5" height="4" fill="#ffffff" stroke="#9c9c9c" stroke-width="0.7"/>
<rect x="52.3" y="581.5" width="5.5" height="4" fill="#ffffff" stroke="#9c9c9c" stroke-width="0.7"/>
<rect x="59.9" y="581.5" width="5.5" height="4" fill="#ffffff" stroke="#9c9c9c" stroke-width="0.7"/>
<rect x="67.5" y="581.5" width="5.5" height="4" fill="#ffffff" stroke="#9c9c9c" stroke-width="0.7"/>
<rect x="75.1" y="581.5" width="5.5" height="4" fill="#ffffff" stroke="#9c9c9c" stroke-width="0.7"/>
<rect x="29.2" y="587.1" width="5.5" height="4" fill="#ffffff" stroke="#9c9c9c" stroke-width="0.7"/>
<rect x="36.8" y="587.1" width="5.5" height="4" fill="#ffffff" stroke="#9c9c9c" stroke-width="0.7"/>
<rect x="44.4" y="587.1" width="5.5" height="4" fill="#ffffff" stroke="#9c9c9c" stroke-width="0.7"/>
<rect x="52.0" y="587.1" width="5.5" height="4" fill="#ffffff" stroke="#9c9c9c" stroke-width="0.7"/>
<rect x="59.6" y="587.1" width="5.5" height="4" fill="#ffffff" stroke="#9c9c9c" stroke-width="0.7"/>
<rect x="67.2" y="587.1" width="5.5" height="4" fill="#ffffff" stroke="#9c9c9c" stroke-width="0.7"/>
<rect x="74.8" y="587.1" width="5.5" height="4" fill="#ffffff" stroke="#9c9c9c" stroke-width="0.7"/>
<rect x="28.9" y="592.7" width="5.5" height="4" fill="#ffffff" stroke="#9c9c9c" stroke-width="0.7"/>
<rect x="36.5" y="592.7" width="5.5" height="4" fill="#ffffff" stroke="#9c9c9c" stroke-width="0.7"/>
<rect x="44.1" y="592.7" width="5.5" height="4" fill="#ffffff" stroke="#9c9c9c" stroke-width="0.7"/>
<rect x="51.7" y="592.7" width="5.5" height="4" fill="#ffffff" stroke="#9c9c9c" stroke-width="0.7"/>
<rect x="59.3" y="592.7" width="5.5" height="4" fill="#ffffff" stroke="#9c9c9c" stroke-width="0.7"/>
<rect x="66.9" y="592.7" width="5.5" height="4" fill="#ffffff" stroke="#9c9c9c" stroke-width="0.7"/>
<rect x="74.5" y="592.7" width="5.5" height="4" fill="#ffffff" stroke="#9c9c9c" stroke-width="0.7"/>
<rect x="28.6" y="598.3" width="5.5" height="4" fill="#ffffff" stroke="#9c9c9c" stroke-width="0.7"/>
<rect x="36.2" y="598.3" width="5.5" height="4" fill="#ffffff" stroke="#9c9c9c" stroke-width="0.7"/>
<rect x="43.8" y="598.3" width="5.5" height="4" fill="#ffffff" stroke="#9c9c9c" stroke-width="0.7"/>
<rect x="51.4" y="598.3" width="5.5" height="4" fill="#ffffff" stroke="#9c9c9c" stroke-width="0.7"/>
<rect x="59.0" y="598.3" width="5.5" height="4" fill="#ffffff" stroke="#9c9c9c" stroke-width="0.7"/>
<rect x="66.6" y="598.3" width="5.5" height="4" fill="#ffffff" stroke="#9c9c9c" stroke-width="0.7"/>
<rect x="74.2" y="598.3" width="5.5" height="4" fill="#ffffff" stroke="#9c9c9c" stroke-width="0.7"/>
<rect x="28.3" y="603.9" width="5.5" height="4" fill="#ffffff" stroke="#9c9c9c" stroke-width="0.7"/>
<rect x="35.9" y="603.9" width="5.5" height="4" fill="#ffffff" stroke="#9c9c9c" stroke-width="0.7"/>
<rect x="43.5" y="603.9" width="5.5" height="4" fill="#ffffff" stroke="#9c9c9c" stroke-width="0.7"/>
<rect x="51.1" y="603.9" width="5.5" height="4" fill="#ffffff" stroke="#9c9c9c" stroke-width="0.7"/>
<rect x="58.7" y="603.9" width="5.5" height="4" fill="#ffffff" stroke="#9c9c9c" stroke-width="0.7"/>
<rect x="66.3" y="603.9" width="5.5" height="4" fill="#ffffff" stroke="#9c9c9c" stroke-width="0.7"/>
<rect x="73.9" y="603.9" width="5.5" height="4" fill="#ffffff" stroke="#9c9c9c" stroke-width="0.7"/>
<g transform="translate(320.9 249.5) scale(0.95)" fill="#d3dcef"><circle cx="0" cy="2.5" r="2.3"/><path d="M-2.8 5.4 C-3.9 5.7 -4.4 6.8 -4.5 9 L-4.8 17 L-3.7 17.4 L-3.3 11.5 L-3 14.5 C-3.3 16.5 -3.3 18.5 -2.9 20.5 L-2.4 30.5 L-0.5 30.5 L-0.1 20.5 L0.1 20.5 L0.5 30.5 L2.4 30.5 L2.9 20.5 C3.3 18.5 3.3 16.5 3 14.5 L3.3 11.5 L3.7 17.4 L4.8 17 L4.5 9 C4.4 6.8 3.9 5.7 2.8 5.4 Z"/></g>
<g transform="translate(330.8 249.5) scale(0.95)" fill="#d3dcef"><circle cx="0" cy="2.5" r="2.3"/><path d="M-2.8 5.4 C-3.9 5.7 -4.4 6.8 -4.5 9 L-4.8 17 L-3.7 17.4 L-3.3 11.5 L-3 14.5 C-3.3 16.5 -3.3 18.5 -2.9 20.5 L-2.4 30.5 L-0.5 30.5 L-0.1 20.5 L0.1 20.5 L0.5 30.5 L2.4 30.5 L2.9 20.5 C3.3 18.5 3.3 16.5 3 14.5 L3.3 11.5 L3.7 17.4 L4.8 17 L4.5 9 C4.4 6.8 3.9 5.7 2.8 5.4 Z"/></g>
<g transform="translate(341.3 249.5) scale(0.95)" fill="#d3dcef"><circle cx="0" cy="2.5" r="2.3"/><path d="M-2.8 5.4 C-3.9 5.7 -4.4 6.8 -4.5 9 L-4.8 17 L-3.7 17.4 L-3.3 11.5 L-3 14.5 C-3.3 16.5 -3.3 18.5 -2.9 20.5 L-2.4 30.5 L-0.5 30.5 L-0.1 20.5 L0.1 20.5 L0.5 30.5 L2.4 30.5 L2.9 20.5 C3.3 18.5 3.3 16.5 3 14.5 L3.3 11.5 L3.7 17.4 L4.8 17 L4.5 9 C4.4 6.8 3.9 5.7 2.8 5.4 Z"/></g>
<g transform="translate(351.2 249.5) scale(0.95)" fill="#d3dcef"><circle cx="0" cy="2.5" r="2.3"/><path d="M-2.8 5.4 C-3.9 5.7 -4.4 6.8 -4.5 9 L-4.8 17 L-3.7 17.4 L-3.3 11.5 L-3 14.5 C-3.3 16.5 -3.3 18.5 -2.9 20.5 L-2.4 30.5 L-0.5 30.5 L-0.1 20.5 L0.1 20.5 L0.5 30.5 L2.4 30.5 L2.9 20.5 C3.3 18.5 3.3 16.5 3 14.5 L3.3 11.5 L3.7 17.4 L4.8 17 L4.5 9 C4.4 6.8 3.9 5.7 2.8 5.4 Z"/></g>
<g transform="translate(362.5 249.5) scale(0.95)" fill="#d3dcef"><circle cx="0" cy="2.5" r="2.3"/><path d="M-2.8 5.4 C-3.9 5.7 -4.4 6.8 -4.5 9 L-4.8 17 L-3.7 17.4 L-3.3 11.5 L-3 14.5 C-3.3 16.5 -3.3 18.5 -2.9 20.5 L-2.4 30.5 L-0.5 30.5 L-0.1 20.5 L0.1 20.5 L0.5 30.5 L2.4 30.5 L2.9 20.5 C3.3 18.5 3.3 16.5 3 14.5 L3.3 11.5 L3.7 17.4 L4.8 17 L4.5 9 C4.4 6.8 3.9 5.7 2.8 5.4 Z"/></g>
<g transform="translate(372.4 249.5) scale(0.95)" fill="#d3dcef"><circle cx="0" cy="2.5" r="2.3"/><path d="M-2.8 5.4 C-3.9 5.7 -4.4 6.8 -4.5 9 L-4.8 17 L-3.7 17.4 L-3.3 11.5 L-3 14.5 C-3.3 16.5 -3.3 18.5 -2.9 20.5 L-2.4 30.5 L-0.5 30.5 L-0.1 20.5 L0.1 20.5 L0.5 30.5 L2.4 30.5 L2.9 20.5 C3.3 18.5 3.3 16.5 3 14.5 L3.3 11.5 L3.7 17.4 L4.8 17 L4.5 9 C4.4 6.8 3.9 5.7 2.8 5.4 Z"/></g>
<g transform="translate(319.4 254.5) scale(0.95)" fill="#a9bde3"><circle cx="0" cy="2.5" r="2.3"/><path d="M-2.8 5.4 C-3.9 5.7 -4.4 6.8 -4.5 9 L-4.8 17 L-3.7 17.4 L-3.3 11.5 L-3 14.5 C-3.3 16.5 -3.3 18.5 -2.9 20.5 L-2.4 30.5 L-0.5 30.5 L-0.1 20.5 L0.1 20.5 L0.5 30.5 L2.4 30.5 L2.9 20.5 C3.3 18.5 3.3 16.5 3 14.5 L3.3 11.5 L3.7 17.4 L4.8 17 L4.5 9 C4.4 6.8 3.9 5.7 2.8 5.4 Z"/></g>
<g transform="translate(329.3 254.5) scale(0.95)" fill="#a9bde3"><circle cx="0" cy="2.5" r="2.3"/><path d="M-2.8 5.4 C-3.9 5.7 -4.4 6.8 -4.5 9 L-4.8 17 L-3.7 17.4 L-3.3 11.5 L-3 14.5 C-3.3 16.5 -3.3 18.5 -2.9 20.5 L-2.4 30.5 L-0.5 30.5 L-0.1 20.5 L0.1 20.5 L0.5 30.5 L2.4 30.5 L2.9 20.5 C3.3 18.5 3.3 16.5 3 14.5 L3.3 11.5 L3.7 17.4 L4.8 17 L4.5 9 C4.4 6.8 3.9 5.7 2.8 5.4 Z"/></g>
<g transform="translate(339.8 254.5) scale(0.95)" fill="#a9bde3"><circle cx="0" cy="2.5" r="2.3"/><path d="M-2.8 5.4 C-3.9 5.7 -4.4 6.8 -4.5 9 L-4.8 17 L-3.7 17.4 L-3.3 11.5 L-3 14.5 C-3.3 16.5 -3.3 18.5 -2.9 20.5 L-2.4 30.5 L-0.5 30.5 L-0.1 20.5 L0.1 20.5 L0.5 30.5 L2.4 30.5 L2.9 20.5 C3.3 18.5 3.3 16.5 3 14.5 L3.3 11.5 L3.7 17.4 L4.8 17 L4.5 9 C4.4 6.8 3.9 5.7 2.8 5.4 Z"/></g>
<g transform="translate(349.7 254.5) scale(0.95)" fill="#a9bde3"><circle cx="0" cy="2.5" r="2.3"/><path d="M-2.8 5.4 C-3.9 5.7 -4.4 6.8 -4.5 9 L-4.8 17 L-3.7 17.4 L-3.3 11.5 L-3 14.5 C-3.3 16.5 -3.3 18.5 -2.9 20.5 L-2.4 30.5 L-0.5 30.5 L-0.1 20.5 L0.1 20.5 L0.5 30.5 L2.4 30.5 L2.9 20.5 C3.3 18.5 3.3 16.5 3 14.5 L3.3 11.5 L3.7 17.4 L4.8 17 L4.5 9 C4.4 6.8 3.9 5.7 2.8 5.4 Z"/></g>
<g transform="translate(361.0 254.5) scale(0.95)" fill="#a9bde3"><circle cx="0" cy="2.5" r="2.3"/><path d="M-2.8 5.4 C-3.9 5.7 -4.4 6.8 -4.5 9 L-4.8 17 L-3.7 17.4 L-3.3 11.5 L-3 14.5 C-3.3 16.5 -3.3 18.5 -2.9 20.5 L-2.4 30.5 L-0.5 30.5 L-0.1 20.5 L0.1 20.5 L0.5 30.5 L2.4 30.5 L2.9 20.5 C3.3 18.5 3.3 16.5 3 14.5 L3.3 11.5 L3.7 17.4 L4.8 17 L4.5 9 C4.4 6.8 3.9 5.7 2.8 5.4 Z"/></g>
<g transform="translate(370.9 254.5) scale(0.95)" fill="#a9bde3"><circle cx="0" cy="2.5" r="2.3"/><path d="M-2.8 5.4 C-3.9 5.7 -4.4 6.8 -4.5 9 L-4.8 17 L-3.7 17.4 L-3.3 11.5 L-3 14.5 C-3.3 16.5 -3.3 18.5 -2.9 20.5 L-2.4 30.5 L-0.5 30.5 L-0.1 20.5 L0.1 20.5 L0.5 30.5 L2.4 30.5 L2.9 20.5 C3.3 18.5 3.3 16.5 3 14.5 L3.3 11.5 L3.7 17.4 L4.8 17 L4.5 9 C4.4 6.8 3.9 5.7 2.8 5.4 Z"/></g>
<g transform="translate(316.9 259.5) scale(1.0)" fill="#1f78c6"><circle cx="0" cy="2.5" r="2.3"/><path d="M-2.8 5.4 C-3.9 5.7 -4.4 6.8 -4.5 9 L-4.8 17 L-3.7 17.4 L-3.3 11.5 L-3 14.5 C-3.3 16.5 -3.3 18.5 -2.9 20.5 L-2.4 30.5 L-0.5 30.5 L-0.1 20.5 L0.1 20.5 L0.5 30.5 L2.4 30.5 L2.9 20.5 C3.3 18.5 3.3 16.5 3 14.5 L3.3 11.5 L3.7 17.4 L4.8 17 L4.5 9 C4.4 6.8 3.9 5.7 2.8 5.4 Z"/></g>
<g transform="translate(326.8 259.5) scale(1.0)" fill="#1f78c6"><circle cx="0" cy="2.5" r="2.3"/><path d="M-2.8 5.4 C-3.9 5.7 -4.4 6.8 -4.5 9 L-4.8 17 L-3.7 17.4 L-3.3 11.5 L-3 14.5 C-3.3 16.5 -3.3 18.5 -2.9 20.5 L-2.4 30.5 L-0.5 30.5 L-0.1 20.5 L0.1 20.5 L0.5 30.5 L2.4 30.5 L2.9 20.5 C3.3 18.5 3.3 16.5 3 14.5 L3.3 11.5 L3.7 17.4 L4.8 17 L4.5 9 C4.4 6.8 3.9 5.7 2.8 5.4 Z"/></g>
<g transform="translate(337.3 259.5) scale(1.0)" fill="#1f78c6"><circle cx="0" cy="2.5" r="2.3"/><path d="M-2.8 5.4 C-3.9 5.7 -4.4 6.8 -4.5 9 L-4.8 17 L-3.7 17.4 L-3.3 11.5 L-3 14.5 C-3.3 16.5 -3.3 18.5 -2.9 20.5 L-2.4 30.5 L-0.5 30.5 L-0.1 20.5 L0.1 20.5 L0.5 30.5 L2.4 30.5 L2.9 20.5 C3.3 18.5 3.3 16.5 3 14.5 L3.3 11.5 L3.7 17.4 L4.8 17 L4.5 9 C4.4 6.8 3.9 5.7 2.8 5.4 Z"/></g>
<g transform="translate(347.2 259.5) scale(1.0)" fill="#1f78c6"><circle cx="0" cy="2.5" r="2.3"/><path d="M-2.8 5.4 C-3.9 5.7 -4.4 6.8 -4.5 9 L-4.8 17 L-3.7 17.4 L-3.3 11.5 L-3 14.5 C-3.3 16.5 -3.3 18.5 -2.9 20.5 L-2.4 30.5 L-0.5 30.5 L-0.1 20.5 L0.1 20.5 L0.5 30.5 L2.4 30.5 L2.9 20.5 C3.3 18.5 3.3 16.5 3 14.5 L3.3 11.5 L3.7 17.4 L4.8 17 L4.5 9 C4.4 6.8 3.9 5.7 2.8 5.4 Z"/></g>
<g transform="translate(358.5 259.5) scale(1.0)" fill="#1f78c6"><circle cx="0" cy="2.5" r="2.3"/><path d="M-2.8 5.4 C-3.9 5.7 -4.4 6.8 -4.5 9 L-4.8 17 L-3.7 17.4 L-3.3 11.5 L-3 14.5 C-3.3 16.5 -3.3 18.5 -2.9 20.5 L-2.4 30.5 L-0.5 30.5 L-0.1 20.5 L0.1 20.5 L0.5 30.5 L2.4 30.5 L2.9 20.5 C3.3 18.5 3.3 16.5 3 14.5 L3.3 11.5 L3.7 17.4 L4.8 17 L4.5 9 C4.4 6.8 3.9 5.7 2.8 5.4 Z"/></g>
<g transform="translate(368.4 259.5) scale(1.0)" fill="#1f78c6"><circle cx="0" cy="2.5" r="2.3"/><path d="M-2.8 5.4 C-3.9 5.7 -4.4 6.8 -4.5 9 L-4.8 17 L-3.7 17.4 L-3.3 11.5 L-3 14.5 C-3.3 16.5 -3.3 18.5 -2.9 20.5 L-2.4 30.5 L-0.5 30.5 L-0.1 20.5 L0.1 20.5 L0.5 30.5 L2.4 30.5 L2.9 20.5 C3.3 18.5 3.3 16.5 3 14.5 L3.3 11.5 L3.7 17.4 L4.8 17 L4.5 9 C4.4 6.8 3.9 5.7 2.8 5.4 Z"/></g>
<path d="M317 321 C314 314 318 305 326 302 C334 299.5 341 302 344 307 C346.5 311 348 314 352 314.5" stroke="#4a4a50" stroke-width="1.4" fill="none"/>
<path d="M318.5 316.8 L331 309.9 C332.2 309.3 333.4 309.6 334.2 310.6 L343.6 323.2 C344.4 324.3 344.2 325.5 343.2 326.3 L331.6 335.8 C330.6 336.6 329.4 336.4 328.6 335.4 L316.8 320.6 C316 319.5 317.3 317.4 318.5 316.8 Z" fill="#bcbcbc" stroke="#4d4d52" stroke-width="1"/>
<path d="M319.5 323.5 C327 327.5 335 327.5 342.8 324" stroke="#4d4d52" stroke-width="0.9" fill="none"/>
<path d="M320.5 325 L329.5 335.6 L342.2 325.5 C334 328.8 327 328.5 320.5 325 Z" fill="#cfcfcf"/>
<path d="M315.8 319 L320 321.2 L321 325.5 L317.2 323.8 Z" fill="#6a6a70"/>
<rect x="352.6" y="303.4" width="19.6" height="26" rx="3.2" fill="#f3f3f1" stroke="#a3a8ae" stroke-width="0.9"/>
<path d="M353 306 V327 C353 328.5 354 329 355.5 329.2 L356 316 Z" fill="#c9ced4"/>
<path d="M356.2 306 H368.7 V316.3 H357.2 Z" fill="#a8dcbc" stroke="#86b89c" stroke-width="0.6"/>
<ellipse cx="364" cy="321.3" rx="3.7" ry="2" fill="#1d7fb8" stroke="#0f5f8e" stroke-width="0.5"/>
<g transform="rotate(-22 328 405.5)"><rect x="307" y="399" width="42" height="13" rx="6.5" fill="url(#pillg)" stroke="#6f6f74" stroke-width="0.9"/><path d="M313.5 399 H327 V412 H313.5 A6.5 6.5 0 0 1 313.5 399 Z" fill="url(#pillr)" stroke="#9a2a3a" stroke-width="0.9"/></g>
<g transform="rotate(8 351.5 414.5)"><rect x="330.5" y="407.3" width="42" height="14.4" rx="7.2" fill="url(#pillg)" stroke="#6f6f74" stroke-width="0.9"/><line x1="351.5" y1="408" x2="351.5" y2="421" stroke="#888" stroke-width="0.7"/></g>
<g>
<rect x="328.1" y="439.7" width="3.2" height="4.6" fill="#c9c6cf" stroke="#6d6a78" stroke-width="0.7" transform="rotate(0.0 329.7 452.3)"/>
<rect x="328.1" y="439.7" width="3.2" height="4.6" fill="#c9c6cf" stroke="#6d6a78" stroke-width="0.7" transform="rotate(45.0 329.7 452.3)"/>
<rect x="328.1" y="439.7" width="3.2" height="4.6" fill="#c9c6cf" stroke="#6d6a78" stroke-width="0.7" transform="rotate(90.0 329.7 452.3)"/>
<rect x="328.1" y="439.7" width="3.2" height="4.6" fill="#c9c6cf" stroke="#6d6a78" stroke-width="0.7" transform="rotate(135.0 329.7 452.3)"/>
<rect x="328.1" y="439.7" width="3.2" height="4.6" fill="#c9c6cf" stroke="#6d6a78" stroke-width="0.7" transform="rotate(180.0 329.7 452.3)"/>
<rect x="328.1" y="439.7" width="3.2" height="4.6" fill="#c9c6cf" stroke="#6d6a78" stroke-width="0.7" transform="rotate(225.0 329.7 452.3)"/>
<rect x="328.1" y="439.7" width="3.2" height="4.6" fill="#c9c6cf" stroke="#6d6a78" stroke-width="0.7" transform="rotate(270.0 329.7 452.3)"/>
<rect x="328.1" y="439.7" width="3.2" height="4.6" fill="#c9c6cf" stroke="#6d6a78" stroke-width="0.7" transform="rotate(315.0 329.7 452.3)"/>
<circle cx="329.7" cy="452.3" r="9" fill="url(#gear)" stroke="#6d6a78" stroke-width="1.2"/>
<circle cx="329.7" cy="452.3" r="6.5" fill="none" stroke="#8f8c99" stroke-width="0.6"/>
<circle cx="329.7" cy="452.3" r="1.6" fill="#ffffff" stroke="#6d6a78" stroke-width="0.8"/>
</g>
<g>
<rect x="321.0" y="461.9" width="3.2" height="4.4" fill="#c9c6cf" stroke="#6d6a78" stroke-width="0.7" transform="rotate(0.0 322.6 473.7)"/>
<rect x="321.0" y="461.9" width="3.2" height="4.4" fill="#c9c6cf" stroke="#6d6a78" stroke-width="0.7" transform="rotate(45.0 322.6 473.7)"/>
<rect x="321.0" y="461.9" width="3.2" height="4.4" fill="#c9c6cf" stroke="#6d6a78" stroke-width="0.7" transform="rotate(90.0 322.6 473.7)"/>
<rect x="321.0" y="461.9" width="3.2" height="4.4" fill="#c9c6cf" stroke="#6d6a78" stroke-width="0.7" transform="rotate(135.0 322.6 473.7)"/>
<rect x="321.0" y="461.9" width="3.2" height="4.4" fill="#c9c6cf" stroke="#6d6a78" stroke-width="0.7" transform="rotate(180.0 322.6 473.7)"/>
<rect x="321.0" y="461.9" width="3.2" height="4.4" fill="#c9c6cf" stroke="#6d6a78" stroke-width="0.7" transform="rotate(225.0 322.6 473.7)"/>
<rect x="321.0" y="461.9" width="3.2" height="4.4" fill="#c9c6cf" stroke="#6d6a78" stroke-width="0.7" transform="rotate(270.0 322.6 473.7)"/>
<rect x="321.0" y="461.9" width="3.2" height="4.4" fill="#c9c6cf" stroke="#6d6a78" stroke-width="0.7" transform="rotate(315.0 322.6 473.7)"/>
<circle cx="322.6" cy="473.7" r="8.4" fill="url(#gear)" stroke="#6d6a78" stroke-width="1.2"/>
<circle cx="322.6" cy="473.7" r="6.0" fill="none" stroke="#8f8c99" stroke-width="0.6"/>
<circle cx="322.6" cy="473.7" r="1.5" fill="#ffffff" stroke="#6d6a78" stroke-width="0.8"/>
</g>
<g>
<rect x="350.2" y="463.2" width="3.6" height="5.2" fill="#c9c6cf" stroke="#6d6a78" stroke-width="0.7" transform="rotate(0.0 352 482.4)"/>
<rect x="350.2" y="463.2" width="3.6" height="5.2" fill="#c9c6cf" stroke="#6d6a78" stroke-width="0.7" transform="rotate(30.0 352 482.4)"/>
<rect x="350.2" y="463.2" width="3.6" height="5.2" fill="#c9c6cf" stroke="#6d6a78" stroke-width="0.7" transform="rotate(60.0 352 482.4)"/>
<rect x="350.2" y="463.2" width="3.6" height="5.2" fill="#c9c6cf" stroke="#6d6a78" stroke-width="0.7" transform="rotate(90.0 352 482.4)"/>
<rect x="350.2" y="463.2" width="3.6" height="5.2" fill="#c9c6cf" stroke="#6d6a78" stroke-width="0.7" transform="rotate(120.0 352 482.4)"/>
<rect x="350.2" y="463.2" width="3.6" height="5.2" fill="#c9c6cf" stroke="#6d6a78" stroke-width="0.7" transform="rotate(150.0 352 482.4)"/>
<rect x="350.2" y="463.2" width="3.6" height="5.2" fill="#c9c6cf" stroke="#6d6a78" stroke-width="0.7" transform="rotate(180.0 352 482.4)"/>
<rect x="350.2" y="463.2" width="3.6" height="5.2" fill="#c9c6cf" stroke="#6d6a78" stroke-width="0.7" transform="rotate(210.0 352 482.4)"/>
<rect x="350.2" y="463.2" width="3.6" height="5.2" fill="#c9c6cf" stroke="#6d6a78" stroke-width="0.7" transform="rotate(240.0 352 482.4)"/>
<rect x="350.2" y="463.2" width="3.6" height="5.2" fill="#c9c6cf" stroke="#6d6a78" stroke-width="0.7" transform="rotate(270.0 352 482.4)"/>
<rect x="350.2" y="463.2" width="3.6" height="5.2" fill="#c9c6cf" stroke="#6d6a78" stroke-width="0.7" transform="rotate(300.0 352 482.4)"/>
<rect x="350.2" y="463.2" width="3.6" height="5.2" fill="#c9c6cf" stroke="#6d6a78" stroke-width="0.7" transform="rotate(330.0 352 482.4)"/>
<circle cx="352" cy="482.4" r="15" fill="url(#gear)" stroke="#6d6a78" stroke-width="1.2"/>
<circle cx="352" cy="482.4" r="10.8" fill="none" stroke="#8f8c99" stroke-width="0.6"/>
<circle cx="352" cy="482.4" r="2.7" fill="#ffffff" stroke="#6d6a78" stroke-width="0.8"/>
</g>
<path d="M319 614 L325 607 L332 610 L338 605.5 L347 604 L352 615 L352 625.7 L319 625.7 Z" fill="#d8e2f0" opacity="0.7"/>
<polyline points="319,613.4 324.9,607.2 331.8,609.8 338,605.5" stroke="#4a4a7a" stroke-width="1.2" fill="none"/>
<polyline points="319,615.6 325.6,611.9 331.8,617.4 339,610.5" stroke="#70c8e0" stroke-width="1.2" fill="none"/>
<path d="M319 590 V625.7 H358" stroke="#555a66" stroke-width="1.5" fill="none"/>
<path d="M316.8 591 L319 587.5 L321.2 591 Z M358 623.5 L361.5 625.7 L358 627.9 Z" fill="#222"/>
<line x1="354" y1="613" x2="364.5" y2="623.5" stroke="#555" stroke-width="2.8" stroke-linecap="round"/>
<circle cx="347" cy="604.3" r="8.6" fill="#e4ecf4" stroke="#5a5a60" stroke-width="1.8"/>
<path d="M340.5 604 C343 601 348 600 353 600.5" stroke="#b8c8d8" stroke-width="0.8" fill="none"/>
</svg>
</body></html>
